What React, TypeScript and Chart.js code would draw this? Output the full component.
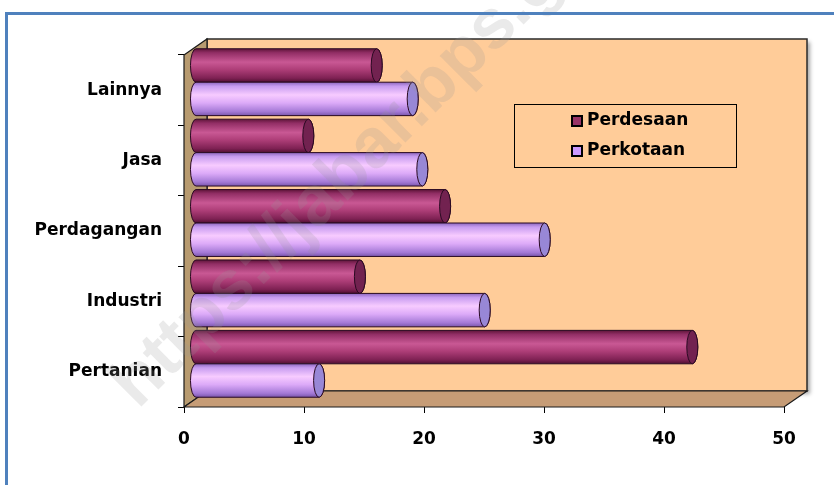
import React, { useEffect, useRef } from 'react';
import { Chart, registerables } from 'chart.js';

Chart.register(...registerables);

// ---- data ----
const categories = ['Pertanian', 'Industri', 'Perdagangan', 'Jasa', 'Lainnya'];
const seriesNames = ['Perdesaan', 'Perkotaan'];
const perdesaan = [41.4, 13.7, 20.8, 9.4, 15.1];
const perkotaan = [10.3, 24.1, 29.1, 18.9, 18.1];
const xTickValues = [0, 10, 20, 30, 40, 50];
const watermarkText = 'https://jabar.bps.go.id';

// ---- styles ----
const FONT_FAMILY = '"DejaVu Sans", "Liberation Sans", sans-serif';
const DEPTH_X = 23;
const DEPTH_Y = -16;

const palettes = [
  {
    stops: [
      [0, '#5e1539'],
      [0.12, '#922e65'],
      [0.4, '#c95894'],
      [0.62, '#ae3e78'],
      [0.88, '#7e2153'],
      [1, '#501032'],
    ],
    cap: '#722250',
    swatch: '#993366',
  },
  {
    stops: [
      [0, '#8c66be'],
      [0.12, '#c79cf0'],
      [0.38, '#f7cbff'],
      [0.62, '#dcaaf8'],
      [0.88, '#a479d6'],
      [1, '#7a56ac'],
    ],
    cap: '#9887d6',
    swatch: '#cc99ff',
  },
];

const scenePlugin = {
  id: 'scene3d',
  beforeDatasetsDraw(chart: any) {
    const { ctx, chartArea } = chart;
    const L = chartArea.left, R = chartArea.right, T = chartArea.top, B = chartArea.bottom;
    const dx = DEPTH_X, dy = DEPTH_Y;
    ctx.save();
    ctx.save();
    ctx.shadowColor = 'rgba(0,0,0,0.35)';
    ctx.shadowBlur = 4;
    ctx.shadowOffsetX = 3;
    ctx.shadowOffsetY = 3;
    ctx.fillStyle = '#FFCC99';
    ctx.fillRect(L + dx, T + dy, R - L, B - T);
    ctx.restore();
    ctx.strokeStyle = '#2b2b2b';
    ctx.lineWidth = 1.5;
    ctx.strokeRect(L + dx, T + dy, R - L, B - T);
    // left wall
    ctx.beginPath();
    ctx.moveTo(L, T);
    ctx.lineTo(L + dx, T + dy);
    ctx.lineTo(L + dx, B + dy);
    ctx.lineTo(L, B);
    ctx.closePath();
    ctx.fillStyle = '#B89B70';
    ctx.fill();
    ctx.strokeStyle = '#1a1a1a';
    ctx.lineWidth = 1.2;
    ctx.stroke();
    // floor
    ctx.beginPath();
    ctx.moveTo(L, B);
    ctx.lineTo(L + dx, B + dy);
    ctx.lineTo(R + dx, B + dy);
    ctx.lineTo(R, B);
    ctx.closePath();
    ctx.fillStyle = '#C69C76';
    ctx.fill();
    ctx.stroke();
    ctx.restore();
  },
  afterDatasetsDraw(chart: any) {
    const { ctx, chartArea } = chart;
    const ox = DEPTH_X / 2, oy = DEPTH_Y / 2;
    ctx.save();
    chart.data.datasets.forEach((ds: any, di: number) => {
      const meta = chart.getDatasetMeta(di);
      const pal = palettes[di];
      meta.data.forEach((el: any) => {
        const p = el.getProps(['x', 'y', 'base', 'height'], true);
        const x0 = p.base + ox;
        const x1 = p.x + ox;
        const cy = p.y + oy;
        const ry = p.height / 2;
        const rx = Math.max(3, ry * 0.33);
        const top = cy - ry, bot = cy + ry;
        const g = ctx.createLinearGradient(0, top, 0, bot);
        pal.stops.forEach((s: any) => g.addColorStop(s[0], s[1]));
        ctx.beginPath();
        ctx.moveTo(x0, top);
        ctx.lineTo(x1, top);
        ctx.ellipse(x1, cy, rx, ry, 0, -Math.PI / 2, Math.PI / 2);
        ctx.lineTo(x0, bot);
        ctx.ellipse(x0, cy, rx, ry, 0, Math.PI / 2, Math.PI * 1.5);
        ctx.closePath();
        ctx.fillStyle = g;
        ctx.fill();
        ctx.strokeStyle = '#2a0a22';
        ctx.lineWidth = 1;
        ctx.stroke();
        ctx.beginPath();
        ctx.ellipse(x1, cy, rx, ry, 0, 0, Math.PI * 2);
        ctx.fillStyle = pal.cap;
        ctx.fill();
        ctx.stroke();
      });
    });

    // legend box
    const lx = chartArea.left + 330, ly = chartArea.top + 49, lw = 222, lh = 63;
    ctx.fillStyle = '#FFCC99';
    ctx.fillRect(lx, ly, lw, lh);
    ctx.strokeStyle = '#000';
    ctx.lineWidth = 1;
    ctx.strokeRect(lx + 0.5, ly + 0.5, lw, lh);
    ctx.font = `bold 17px ${FONT_FAMILY}`;
    ctx.textBaseline = 'middle';
    ctx.textAlign = 'left';
    seriesNames.forEach((name, i) => {
      const cyL = ly + 17 + i * 30;
      ctx.fillStyle = palettes[i].swatch;
      ctx.fillRect(lx + 58, cyL - 5, 10, 10);
      ctx.strokeStyle = '#000';
      ctx.lineWidth = 2;
      ctx.strokeRect(lx + 58, cyL - 5, 10, 10);
      ctx.fillStyle = '#000';
      ctx.fillText(name, lx + 73, cyL);
    });
    ctx.restore();
  },
  afterDraw(chart: any) {
    const { ctx } = chart;
    ctx.save();
    ctx.translate(138, 410);
    ctx.rotate(-Math.PI / 4);
    ctx.font = 'bold 70px "Liberation Sans", Arial, sans-serif';
    ctx.fillStyle = 'rgba(150,150,150,0.2)';
    ctx.textBaseline = 'alphabetic';
    ctx.fillText(watermarkText, 0, 0);
    ctx.restore();
  },
};

export default function App() {
  const ref = useRef<HTMLCanvasElement>(null);
  useEffect(() => {
    const font = { family: FONT_FAMILY, size: 17, weight: 'bold' as const };
    const chart = new Chart(ref.current as HTMLCanvasElement, {
      type: 'bar',
      data: {
        labels: categories,
        datasets: [
          { label: seriesNames[0], data: perdesaan, backgroundColor: 'rgba(0,0,0,0)', borderWidth: 0 },
          { label: seriesNames[1], data: perkotaan, backgroundColor: 'rgba(0,0,0,0)', borderWidth: 0 },
        ],
      },
      options: {
        indexAxis: 'y',
        responsive: false,
        animation: false,
        layout: { padding: { top: 55, right: 50, bottom: 38, left: 0 } },
        datasets: { bar: { categoryPercentage: 0.95, barPercentage: 1 } },
        scales: {
          x: {
            min: 0,
            max: 50,
            afterBuildTicks: (s: any) => {
              s.ticks = xTickValues.map((v) => ({ value: v }));
            },
            ticks: { font, color: '#000', padding: 16, maxRotation: 0 },
            grid: { drawOnChartArea: false, tickLength: 6, color: '#000', lineWidth: 1 },
            border: { display: false },
            afterFit: (s: any) => {
              s.height = 40;
            },
          },
          y: {
            reverse: true,
            ticks: { font, color: '#000', padding: 16 },
            grid: { drawOnChartArea: false, tickLength: 6, color: '#000', lineWidth: 1, offset: true },
            border: { display: false },
            afterFit: (s: any) => {
              s.width = 184;
            },
          },
        },
        plugins: { legend: { display: false }, tooltip: { enabled: false } },
      },
      plugins: [scenePlugin],
    });
    return () => chart.destroy();
  }, []);

  return (
    <div style={{ position: 'absolute', left: 0, top: 0, width: 834, height: 485, background: '#fff', overflow: 'hidden' }}>
      <canvas ref={ref} width={834} height={485} style={{ display: 'block' }} />
      <div
        style={{
          position: 'absolute',
          left: 5,
          top: 12,
          width: 900,
          height: 600,
          borderTop: '3px solid #4F81BD',
          borderLeft: '3px solid #4F81BD',
          pointerEvents: 'none',
        }}
      />
    </div>
  );
}
